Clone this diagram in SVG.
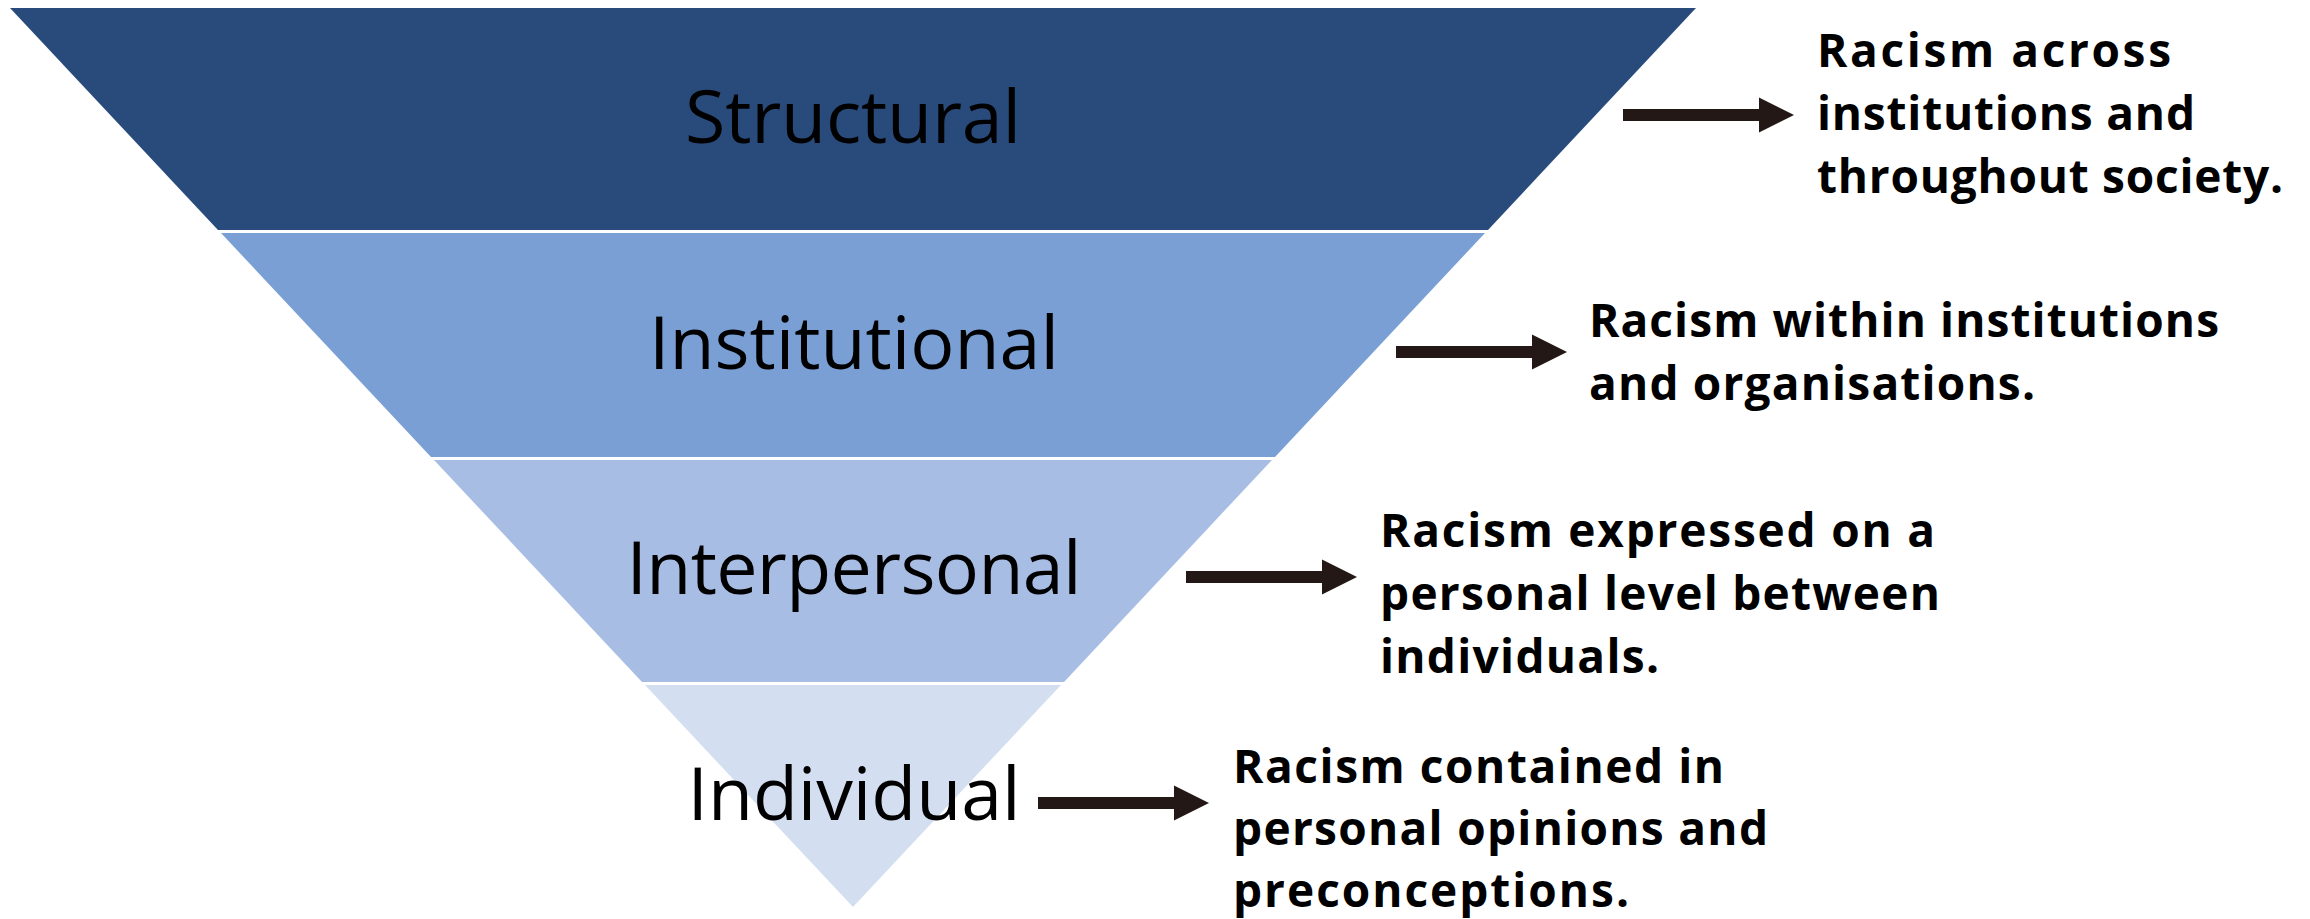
<svg xmlns="http://www.w3.org/2000/svg" width="2310" height="919" viewBox="0 0 2310 919">
  <style>
    .lvl { font-family: "Open Sans", "Noto Sans", sans-serif; font-size: 73.5px; fill: #000000; text-anchor: middle; }
    .desc { font-family: "Open Sans", "Noto Sans", sans-serif; font-size: 46px; font-weight: 700; fill: #000000; }
    .arrow { fill: #231815; }
  </style>
  <defs>
    <path id="arr" d="M0,-6 L136,-6 L136,-17.5 L171,0 L136,17.5 L136,6 L0,6 Z"/>
  </defs>
  <rect width="2310" height="919" fill="#ffffff"/>

  <g id="structural">
    <polygon points="10,8 1696,8 1488,230 218,230" fill="#294B7C"/>
    <text class="lvl" x="853" y="143" textLength="336" lengthAdjust="spacing">Structural</text>
  </g>
  <g id="institutional">
    <polygon points="221,233 1485,233 1275,457 431,457" fill="#7A9FD4"/>
    <text class="lvl" x="854" y="369" textLength="410" lengthAdjust="spacing">Institutional</text>
  </g>
  <g id="interpersonal">
    <polygon points="434,460 1272,460 1064,682 642,682" fill="#A8BDE3"/>
    <text class="lvl" x="854" y="594" textLength="455" lengthAdjust="spacing">Interpersonal</text>
  </g>
  <g id="individual">
    <polygon points="645,685 1061,685 853,907" fill="#D3DFF1"/>
    <text class="lvl" x="854" y="820" textLength="333" lengthAdjust="spacing">Individual</text>
  </g>

  <g id="connectors" class="arrow">
    <use href="#arr" x="1623" y="115"/>
    <use href="#arr" x="1396" y="352"/>
    <use href="#arr" x="1186" y="577"/>
    <use href="#arr" x="1038" y="803"/>
  </g>

  <g id="desc-structural">
    <text class="desc" x="1817" y="67" textLength="354" lengthAdjust="spacing">Racism across</text>
    <text class="desc" x="1817" y="130" textLength="378" lengthAdjust="spacing">institutions and</text>
    <text class="desc" x="1817" y="193" textLength="466" lengthAdjust="spacing">throughout society.</text>
  </g>
  <g id="desc-institutional">
    <text class="desc" x="1589" y="337" textLength="630" lengthAdjust="spacing">Racism within institutions</text>
    <text class="desc" x="1589" y="400" textLength="446" lengthAdjust="spacing">and organisations.</text>
  </g>
  <g id="desc-interpersonal">
    <text class="desc" x="1380" y="547" textLength="555" lengthAdjust="spacing">Racism expressed on a</text>
    <text class="desc" x="1380" y="610" textLength="560" lengthAdjust="spacing">personal level between</text>
    <text class="desc" x="1380" y="673" textLength="279" lengthAdjust="spacing">individuals.</text>
  </g>
  <g id="desc-individual">
    <text class="desc" x="1233" y="783" textLength="491" lengthAdjust="spacing">Racism contained in</text>
    <text class="desc" x="1233" y="845" textLength="535" lengthAdjust="spacing">personal opinions and</text>
    <text class="desc" x="1233" y="907" textLength="396" lengthAdjust="spacing">preconceptions.</text>
  </g>
</svg>
